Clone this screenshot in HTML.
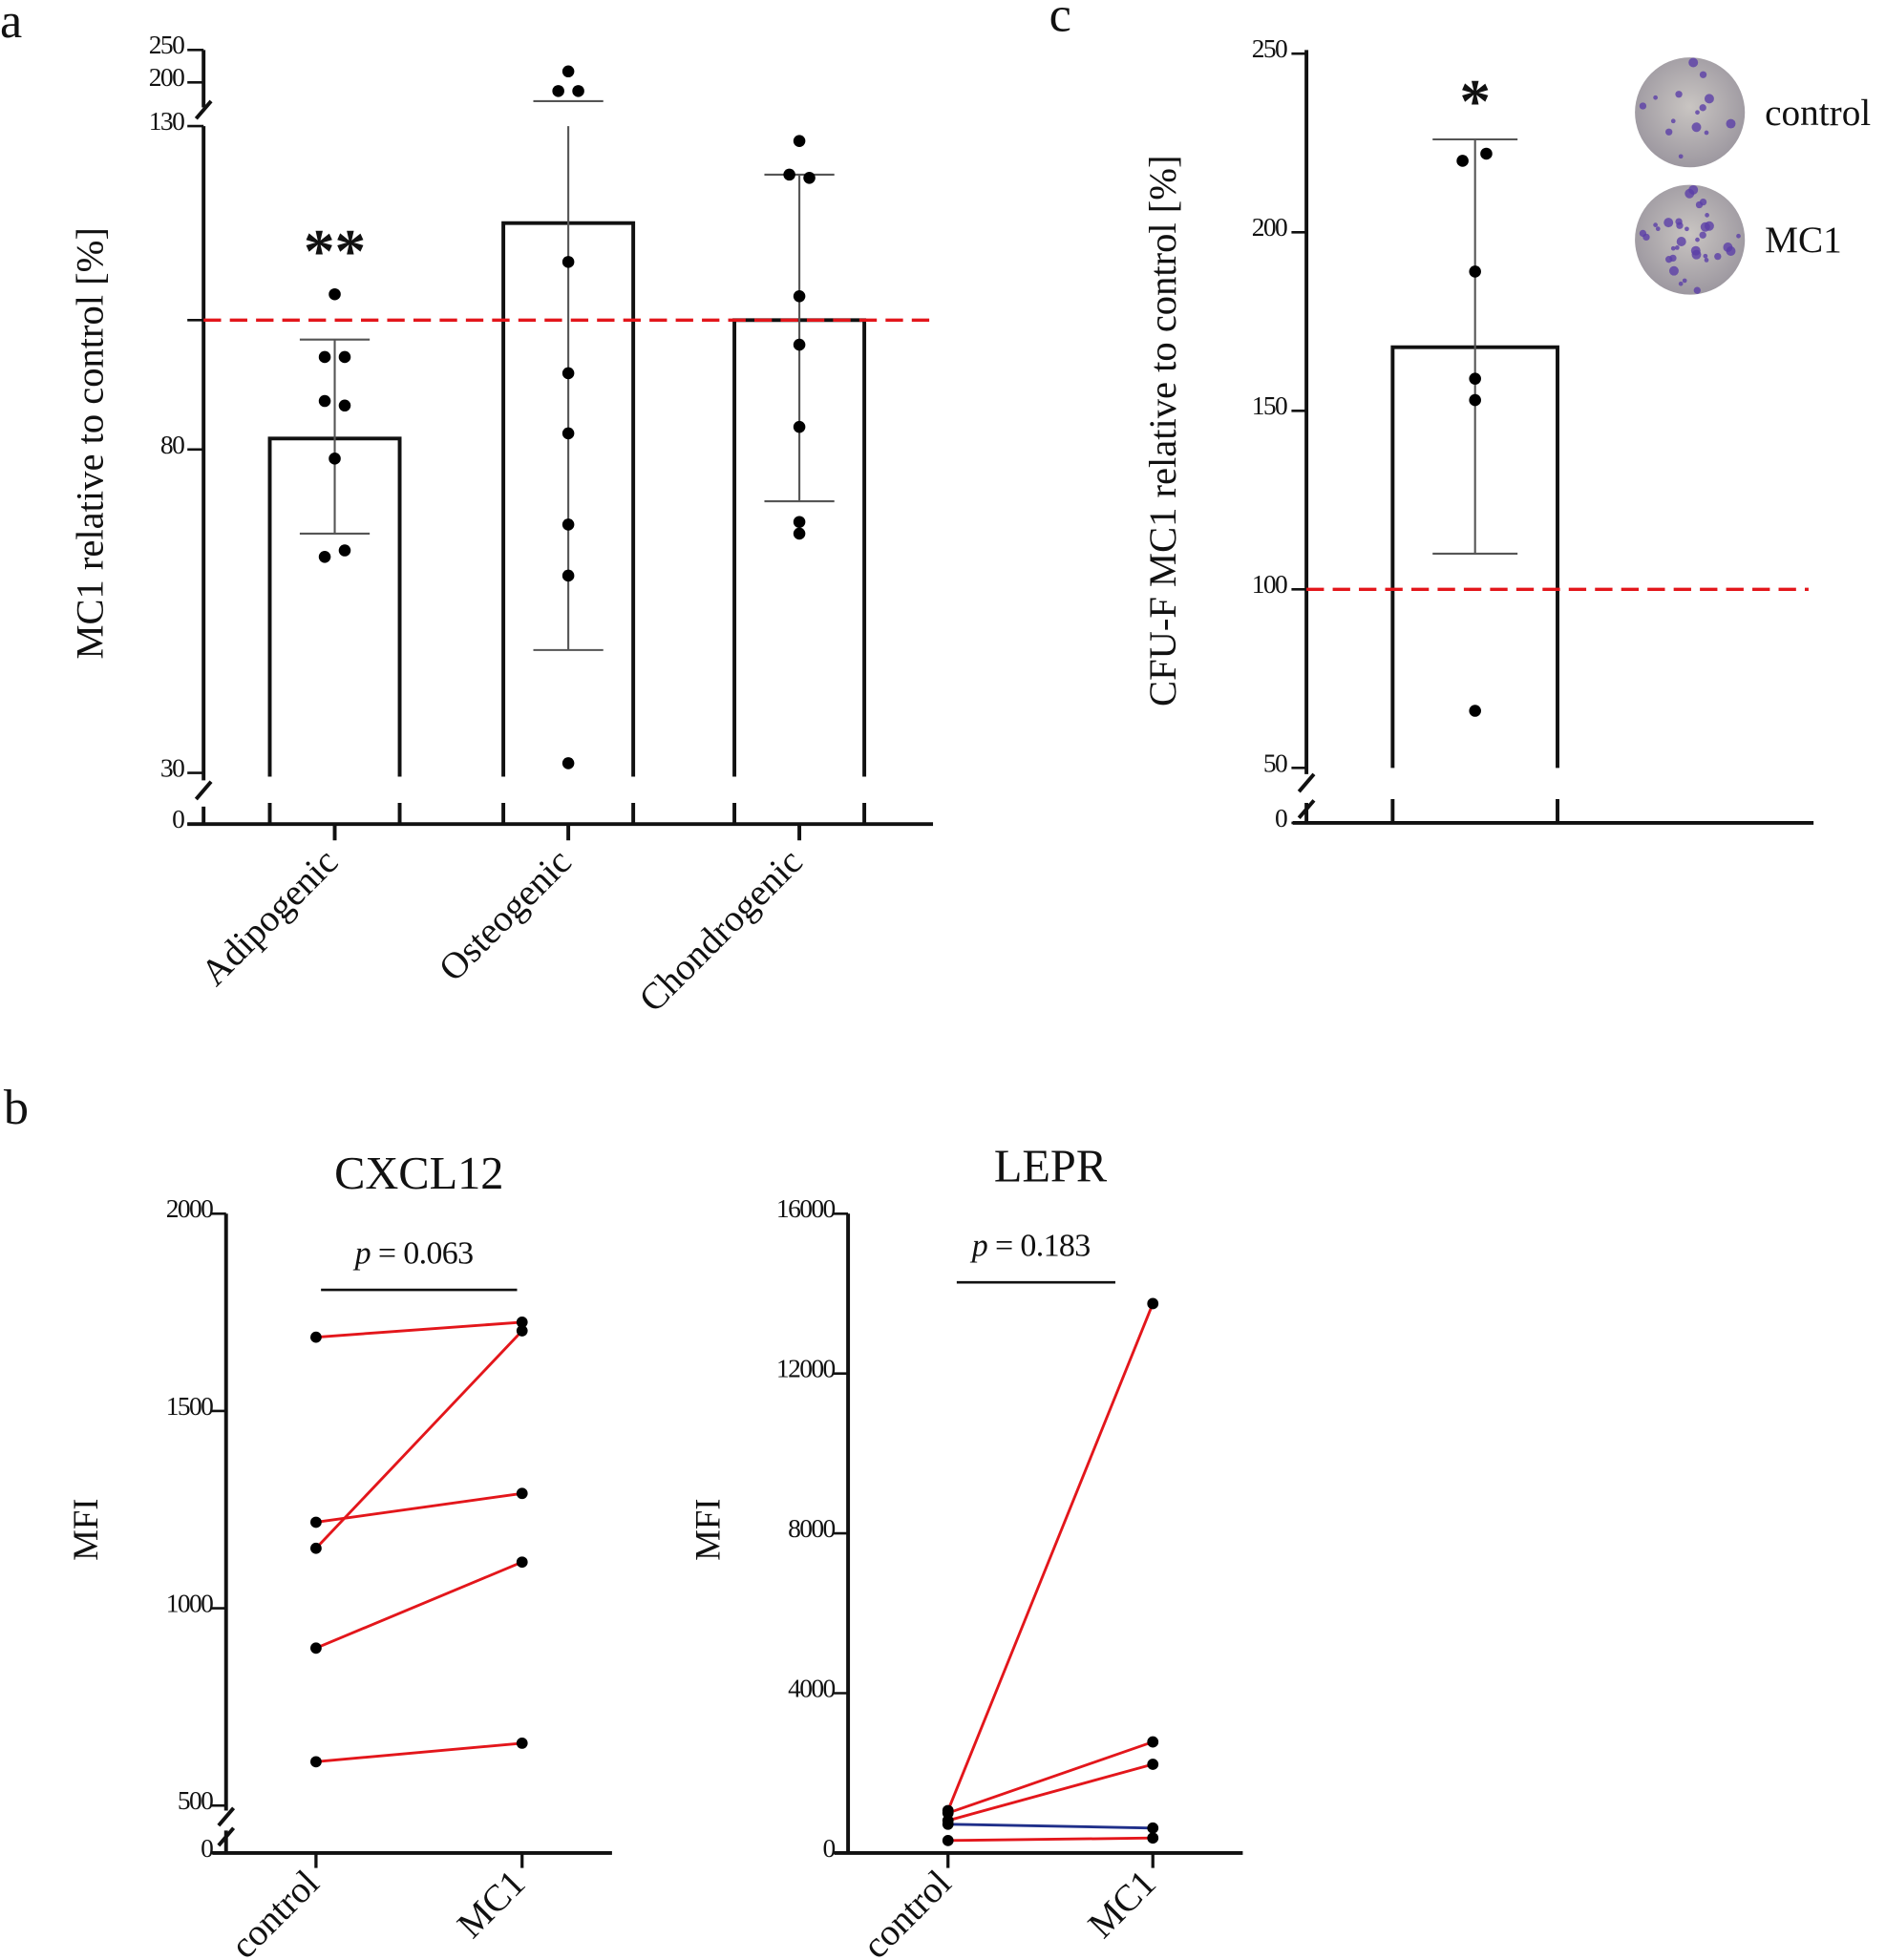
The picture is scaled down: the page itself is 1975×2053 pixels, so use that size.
<!DOCTYPE html>
<html><head><meta charset="utf-8"><style>
html,body{margin:0;padding:0;background:#fff}
svg{display:block}
text{font-family:"Liberation Serif",serif;fill:#111}
.tk{font-size:21px;letter-spacing:-1.2px}
</style></head><body>
<svg id="fig" width="1975" height="2053" viewBox="0 0 1510 1569.7" preserveAspectRatio="none" xmlns="http://www.w3.org/2000/svg">
<defs>
<radialGradient id="dish" cx="50%" cy="45%" r="55%"><stop offset="0" stop-color="#c9c5c2"/><stop offset="1" stop-color="#9d98a0"/></radialGradient>
</defs>
<g id="pa"></g>
<g id="pc"></g>
<g id="pb1"></g>
<g id="pb2"></g>
</svg>
<script>
// ---- Panel a data ----
const aCats = ["Adipogenic","Osteogenic","Chondrogenic"];
const aMeans = [81.7, 115, 100];
const aErrHi = [97, 190, 122.5];
const aErrLo = [67, 49, 72];
const aPts0 = [104, 94.3, 94.3, 87.5, 86.8, 78.6, 63.4, 64.4];
const aPts1 = [217, 177, 177, 109, 91.8, 82.5, 68.4, 60.5, 31.5];
const aPts2 = [127.7, 122.5, 122, 103.7, 96.2, 83.5, 68.8, 67];
const aTicks = [250, 200, 130, 80, 30, 0];
// ---- Panel c data ----
const cMean = [167.8];
const cErrHi = [226];
const cErrLo = [110];
const cPts = [220, 222, 189, 159, 153, 66];
const cTicks = [250, 200, 150, 100, 50, 0];
// ---- Panel b data ----
const bCats = ["control","MC1"];
const cxCtrl = [1687, 1152, 1218, 899, 611];
const cxMC1 = [1725, 1703, 1291, 1117, 658];
const cxTicks = [2000, 1500, 1000, 500, 0];
const lpCtrl = [1062, 1000, 812, 720, 312];
const lpMC1 = [13750, 2780, 2220, 625, 375];
const lpColors = ["red","red","red","blue","red"];
const lpTicks = [16000, 12000, 8000, 4000, 0];

const NS = "http://www.w3.org/2000/svg";
function mk(parent, tag, attrs, txt){
  const e = document.createElementNS(NS, tag);
  for (const k in attrs) e.setAttribute(k, attrs[k]);
  if (txt !== undefined) e.textContent = txt;
  parent.appendChild(e);
  return e;
}
const RED = "#e3161b";

// ================= Panel A =================
(function(){
  const g = document.getElementById('pa');
  const ya = v => v <= 130 ? 619 - (v - 30) * 5.18 : (v >= 200 ? 66 - (v - 200) * 0.52 : 66 + (200 - v) * 0.3);
  const yPos = v => v === 0 ? 660 : (v === 250 ? 40 : (v === 200 ? 66 : ya(v)));
  const xc = [268, 455, 640];
  const bw = 104;
  let t = mk(g,'text',{x:0,y:30,'font-size':40});
    t.textContent='a';
  const ax = mk(g,'path',{d:"M163 40 V86 M163 101 V625 M163 646 V660 M157 95 L169 81 M157 640 L169 626",stroke:"#111","stroke-width":3,fill:"none"});
   
  const xa = mk(g,'line',{x1:150,y1:660,x2:747,y2:660,stroke:"#111","stroke-width":3});
   
  aTicks.forEach(v=>{
    const y = yPos(v);
    mk(g,'line',{x1:150,y1:y,x2:163,y2:y,stroke:"#111","stroke-width":2});
    const tl = mk(g,'text',{x:147,y:y+3,'text-anchor':'end',class:'tk'}, String(v));
     
  });
  mk(g,'line',{x1:150,y1:ya(100),x2:163,y2:ya(100),stroke:"#111","stroke-width":2});
  const yl = mk(g,'text',{x:0,y:0,'font-size':31,'text-anchor':'middle',transform:'translate(82,355) rotate(-90)'},'MC1 relative to control [%]');
   
  const pts = [aPts0, aPts1, aPts2];
  const offs = [[0,-8,8,-8,8,0,-8,8],[0,-8,8,0,0,0,0,0,0],[0,-8,8,0,0,0,0,0]];
  aCats.forEach((c,i)=>{
    const x0 = xc[i]-bw/2, x1 = xc[i]+bw/2, yt = ya(aMeans[i]);
    const b = mk(g,'path',{d:`M${x0} 622 V${yt} H${x1} V622 M${x0} 643 V660 M${x1} 643 V660 M${xc[i]} 660 V673`,stroke:"#111","stroke-width":3,fill:"none"});
     
    const hi = ya(aErrHi[i]) , lo = ya(aErrLo[i]);
    const hiY = aErrHi[i] > 130 ? 81 : hi;
    const e = mk(g,'path',{d:`M${xc[i]} ${Math.max(hiY,101)} V${lo} M${xc[i]-28} ${hiY} H${xc[i]+28} M${xc[i]-28} ${lo} H${xc[i]+28}`,stroke:"#555","stroke-width":1.6,fill:"none"});
     
    pts[i].forEach((v,j)=>{
      const d = mk(g,'circle',{cx:xc[i]+offs[i][j],cy:ya(v),r:4.8,fill:"#000"});
       
    });
    const xl = mk(g,'text',{x:0,y:0,'font-size':30,'text-anchor':'end',transform:`translate(${xc[i]+4},${692}) rotate(-45)`}, c);
     
  });
  const dl = mk(g,'line',{x1:163,y1:ya(100),x2:750,y2:ya(100),stroke:RED,"stroke-width":2.6,"stroke-dasharray":"14 7"});
   
  const st = mk(g,'text',{x:268,y:218,'font-size':50,'font-weight':'bold','text-anchor':'middle','font-family':'Liberation Sans'},'**');
   
})();

// ================= Panel C =================
(function(){
  const g = document.getElementById('pc');
  const yc = v => v === 0 ? 659 : 472 - (v - 100) * 2.86;
  const xc = 1181;
  mk(g,'text',{x:840,y:25,'font-size':40},'c');
  const ax = mk(g,'path',{d:"M1046 40 V620 M1046 643 V659 M1040 634 L1052 620 M1040 655 L1052 641",stroke:"#111","stroke-width":3,fill:"none"});
   
  const xa = mk(g,'line',{x1:1035,y1:659,x2:1452,y2:659,stroke:"#111","stroke-width":3});
   
  cTicks.forEach(v=>{
    const y = yc(v);
    mk(g,'line',{x1:1034,y1:y,x2:1046,y2:y,stroke:"#111","stroke-width":2});
    const tl = mk(g,'text',{x:1030,y:y+3,'text-anchor':'end',class:'tk'}, String(v));
     
  });
  const yl = mk(g,'text',{x:0,y:0,'font-size':31,'text-anchor':'middle',transform:'translate(941,345) rotate(-90)'},'CFU-F MC1 relative to control [%]');
   
  const yt = yc(cMean[0]);
  const b = mk(g,'path',{d:`M1115 615 V${yt} H1247 V615 M1115 640 V659 M1247 640 V659`,stroke:"#111","stroke-width":3,fill:"none"});
   
  const hi = yc(cErrHi[0]), lo = yc(cErrLo[0]);
  const e = mk(g,'path',{d:`M${xc} ${hi} V${lo} M${xc-34} ${hi} H${xc+34} M${xc-34} ${lo} H${xc+34}`,stroke:"#555","stroke-width":1.6,fill:"none"});
   
  const offs = [-10,9,0,0,0,0];
  cPts.forEach((v,j)=>{
    const d = mk(g,'circle',{cx:xc+offs[j],cy:yc(v),r:4.8,fill:"#000"});
     
  });
  const dl = mk(g,'line',{x1:1046,y1:yc(100),x2:1448,y2:yc(100),stroke:RED,"stroke-width":2.6,"stroke-dasharray":"14 7"});
   
  const st = mk(g,'text',{x:xc,y:98,'font-size':50,'font-weight':'bold','text-anchor':'middle','font-family':'Liberation Sans'},'*');
   
  [[90,'control',14],[192,'MC1',34]].forEach(([cy,lab,n])=>{
    const c = mk(g,'circle',{cx:1353,cy:cy,r:44,fill:"url(#dish)"});
     
    for(let k=0;k<n;k++){
      const a = k*2.39, rr = 6 + (k*17)%36;
      mk(g,'circle',{cx:1353+rr*Math.cos(a),cy:cy+rr*Math.sin(a),r:1.8+(k%3),fill:"#5b3fa8",opacity:0.8});
    }
    const tl = mk(g,'text',{x:1413,y:cy+10,'font-size':30},lab);
     
  });
})();

// ================= Panel B =================
function pairedPlot(gid, opts){
  const g = document.getElementById(gid);
  const {axX, x0, x1, yTop, yZero, yFn, ticks, ctrl, mc1, colors, title, titleY, pText, pY, lineX, breakAxis, xEnd} = opts;
  if (breakAxis){
    const ax = mk(g,'path',{d:`M${axX} ${yTop} V1450 M${axX} 1466 V${yZero} M${axX-6} 1462 L${axX+6} 1448 M${axX-6} 1478 L${axX+6} 1464`,stroke:"#111","stroke-width":3,fill:"none"});
     
  } else {
    const ax = mk(g,'line',{x1:axX,y1:yTop,x2:axX,y2:yZero,stroke:"#111","stroke-width":3});
     
  }
  const xa = mk(g,'line',{x1:axX-11,y1:yZero,x2:xEnd,y2:yZero,stroke:"#111","stroke-width":3});
   
  ticks.forEach(v=>{
    const y = yFn(v);
    mk(g,'line',{x1:axX-12,y1:y,x2:axX,y2:y,stroke:"#111","stroke-width":2});
    const tl = mk(g,'text',{x:axX-11,y:y+3,'text-anchor':'end',class:'tk'}, String(v));
     
  });
  const tt = mk(g,'text',{x:(x0+x1)/2,y:titleY,'font-size':37,'text-anchor':'middle'},title);
   
  const pl = mk(g,'line',{x1:lineX[0],y1:pY+21,x2:lineX[1],y2:pY+21,stroke:"#111","stroke-width":2});
   
  const pt = mk(g,'text',{x:(lineX[0]+lineX[1])/2-4,y:pY,'font-size':26,'text-anchor':'middle','letter-spacing':'-0.5'});
   
  mk(pt,'tspan',{'font-style':'italic'},'p');
  mk(pt,'tspan',{},' = '+pText);
  const yl = mk(g,'text',{x:0,y:0,'font-size':28,'text-anchor':'middle',transform:`translate(${axX-103},1225) rotate(-90)`},'MFI');
   
  ctrl.forEach((v,i)=>{
    const col = colors && colors[i]==='blue' ? '#1f2f8a' : RED;
    const l = mk(g,'line',{x1:x0,y1:yFn(v),x2:x1,y2:yFn(mc1[i]),stroke:col,"stroke-width":2.2});
     
  });
  ctrl.forEach((v,i)=>{
    let d = mk(g,'circle',{cx:x0,cy:yFn(v),r:4.5,fill:"#000"});
     
    d = mk(g,'circle',{cx:x1,cy:yFn(mc1[i]),r:4.5,fill:"#000"});
     
  });
  [x0,x1].forEach((x,i)=>{
    mk(g,'line',{x1:x,y1:yZero,x2:x,y2:yZero+12,stroke:"#111","stroke-width":2.5});
    const xl = mk(g,'text',{x:0,y:0,'font-size':30,'text-anchor':'end',transform:`translate(${x+4},${yZero+26}) rotate(-45)`}, bCats[i]);
     
  });
}
mk(document.getElementById('pb1'),'text',{x:3,y:900,'font-size':40},'b');
pairedPlot('pb1',{axX:181,x0:253,x1:418,yTop:972,yZero:1484,
  yFn:v=> v===0 ? 1484 : 972+(2000-v)*0.316,
  ticks:cxTicks, ctrl:cxCtrl, mc1:cxMC1, colors:null, title:'CXCL12', titleY:952,
  pText:'0.063', pY:1012, lineX:[257,414], breakAxis:true, xEnd:490});
pairedPlot('pb2',{axX:679,x0:759,x1:923,yTop:972,yZero:1484,
  yFn:v=> 1484-v*0.032,
  ticks:lpTicks, ctrl:lpCtrl, mc1:lpMC1, colors:lpColors, title:'LEPR', titleY:946,
  pText:'0.183', pY:1006, lineX:[766,893], breakAxis:false, xEnd:995});
</script>
</body></html>
